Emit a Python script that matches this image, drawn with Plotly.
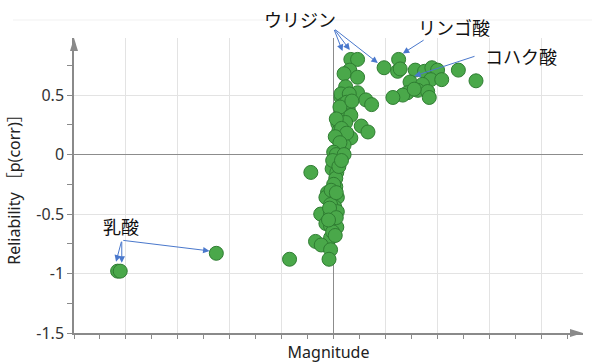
import plotly.graph_objects as go

# Loadings of the metabolites: magnitude vs reliability p(corr)
magnitude = [
    0.33, 0.46, 0.97, 1.25, 1.23, 1.28, 0.31, 0.20, 0.46,
    1.57, 1.75, 1.89, 2.00, 1.87, 2.08, 2.40, 2.74,
    1.47, 1.71, 1.62, 1.42, 1.33, 1.14, 1.81, 1.84, 1.55,
    0.23, 0.31, 0.46, 0.62, 0.73, 0.28, 0.14, 0.14, 0.30,
    0.14, 0.33, 0.08, 0.23, 0.53, 0.66, 0.10, 0.33, 0.09, 0.20, 0.10,
    0.07, 0.07, -0.03, 0.06, -0.44, 0.04, 0.04, -0.12, -0.15, 0.07,
    0.02, -0.06, -0.25, -0.06, 0.07, -0.15, -0.06, 0.06, -0.06, -0.35,
    -0.24, -0.06, -0.09, -0.85,
    0.18, 0.25, 0.12, 0.35, 0.05, 0.15, 0.25, 0.03, 0.12, 0.00, 0.05,
    -0.02, 0.10, 0.00, -0.05, 0.05, -0.08, 0.05, -0.02, 0.03, -0.10, 0.20, 0.15,
    -4.16, -4.11, -2.26,
]
reliability = [
    0.80, 0.80, 0.73, 0.80, 0.70, 0.72, 0.71, 0.68, 0.65,
    0.71, 0.70, 0.73, 0.71, 0.63, 0.63, 0.71, 0.62,
    0.61, 0.59, 0.54, 0.52, 0.50, 0.48, 0.53, 0.48, 0.55,
    0.57, 0.50, 0.52, 0.46, 0.42, 0.38, 0.48, 0.51, 0.51,
    0.34, 0.33, 0.26, 0.27, 0.24, 0.19, 0.20, 0.14, 0.13, 0.08, 0.05,
    -0.02, -0.08, -0.12, -0.15, -0.15, -0.20, -0.27, -0.32, -0.36, -0.36,
    -0.44, -0.42, -0.50, -0.50, -0.48, -0.58, -0.60, -0.61, -0.70, -0.73,
    -0.76, -0.80, -0.88, -0.88,
    0.42, 0.44, 0.40, 0.45, 0.30, 0.22, 0.18, 0.15, 0.10, 0.02, 0.00,
    -0.05, -0.10, -0.25, -0.30, -0.32, -0.45, -0.53, -0.65, -0.68, -0.55, 0.00, -0.05,
    -0.98, -0.98, -0.83,
]

y_tick_values = [-1.5, -1.0, -0.5, 0.0, 0.5]
y_tick_labels = ["-1.5", "-1", "-0.5", "0", "0.5"]

Y_MIN, Y_MAX = -1.5, 0.98

# Labelled metabolites: name, label position, arrow tail, arrow heads
label_names = ["ウリジン", "リンゴ酸", "コハク酸", "乳酸"]
label_pos = [(-0.64, 1.13), (2.32, 1.06), (3.61, 0.82), (-4.09, -0.61)]
arrow_tails = [(0.0, 1.06), (1.76, 0.97), (2.74, 0.83), (-4.08, -0.72)]
arrow_heads = [
    [(0.17, 0.87), (0.31, 0.88), (0.85, 0.77)],
    [(1.33, 0.85)],
    [(1.55, 0.66)],
    [(-4.19, -0.90), (-4.08, -0.91), (-2.39, -0.81)],
]

FONT = "Noto Sans, Noto Sans CJK JP, sans-serif"
AXIS_GRAY = "#8a8a8a"

fig = go.Figure()
fig.add_trace(go.Scatter(
    x=magnitude, y=reliability, mode="markers",
    marker=dict(size=14, color="#4aa84a", line=dict(color="#2f7d32", width=1)),
    hoverinfo="x+y", showlegend=False,
))

annotations = []
for name, (tx, ty), (ax, ay), heads in zip(label_names, label_pos, arrow_tails, arrow_heads):
    # labels above the top of the y range are placed in paper units so they stay visible
    annotations.append(dict(
        x=tx, y=(ty - Y_MIN) / (Y_MAX - Y_MIN), xref="x", yref="paper",
        xanchor="center", yanchor="middle",
        text=name, showarrow=False,
        font=dict(family=FONT, size=18, color="#111111"),
    ))
    for hx, hy in heads:
        annotations.append(dict(
            x=hx, y=hy, xref="x", yref="y", ax=ax, ay=ay, axref="x", ayref="y",
            text="", showarrow=True, arrowhead=2, arrowsize=1.3, arrowwidth=1,
            arrowcolor="#4a78cc", standoff=0, startstandoff=0,
        ))

shapes = [
    # arrow tips at the ends of the axes
    dict(type="path", xref="paper", yref="paper", xsizemode="pixel", ysizemode="pixel",
         xanchor=0, yanchor=1, path="M 0 0 L -4 -13 L 4 -13 Z",
         fillcolor=AXIS_GRAY, line=dict(width=0)),
    dict(type="path", xref="paper", yref="paper", xsizemode="pixel", ysizemode="pixel",
         xanchor=1, yanchor=0, path="M 0 0 L -13 4 L -13 -4 Z",
         fillcolor=AXIS_GRAY, line=dict(width=0)),
    # faint frame line above the chart
    dict(type="line", xref="paper", yref="paper", x0=-0.12, x1=1.02, y0=1.061, y1=1.061,
         line=dict(color="#f1f1f1", width=1)),
]

fig.update_layout(
    width=592, height=363,
    margin=dict(l=74, r=9, t=38, b=30),
    paper_bgcolor="white", plot_bgcolor="white",
    font=dict(family=FONT, color="#333333"),
    annotations=annotations, shapes=shapes,
    xaxis=dict(
        range=[-5.0, 4.8], dtick=1, tick0=0, showticklabels=False,
        ticks="outside", ticklen=4, tickcolor=AXIS_GRAY,
        minor=dict(dtick=0.5, ticks="outside", ticklen=4, tickcolor=AXIS_GRAY, showgrid=False),
        showgrid=True, gridcolor="#e3e3e3", gridwidth=1,
        zeroline=True, zerolinecolor="#8c8c8c", zerolinewidth=1.2,
        showline=True, linecolor=AXIS_GRAY, linewidth=1.5,
        title=dict(text="Magnitude", font=dict(size=16, color="#222222"), standoff=14),
        automargin=False, fixedrange=True,
    ),
    yaxis=dict(
        range=[Y_MIN, Y_MAX], tickvals=y_tick_values, ticktext=y_tick_labels,
        ticks="outside", ticklen=5, tickcolor=AXIS_GRAY,
        minor=dict(dtick=0.25, ticks="outside", ticklen=5, tickcolor=AXIS_GRAY, showgrid=False),
        tickfont=dict(size=16, color="#333333"),
        showgrid=True, gridcolor="#e3e3e3", gridwidth=1,
        zeroline=True, zerolinecolor="#8c8c8c", zerolinewidth=1.2,
        showline=True, linecolor=AXIS_GRAY, linewidth=1.5,
        title=dict(text="Reliability ［p(corr)］", font=dict(size=16, color="#222222"), standoff=12),
        automargin=False, fixedrange=True,
    ),
)

fig.write_html("out.html")
